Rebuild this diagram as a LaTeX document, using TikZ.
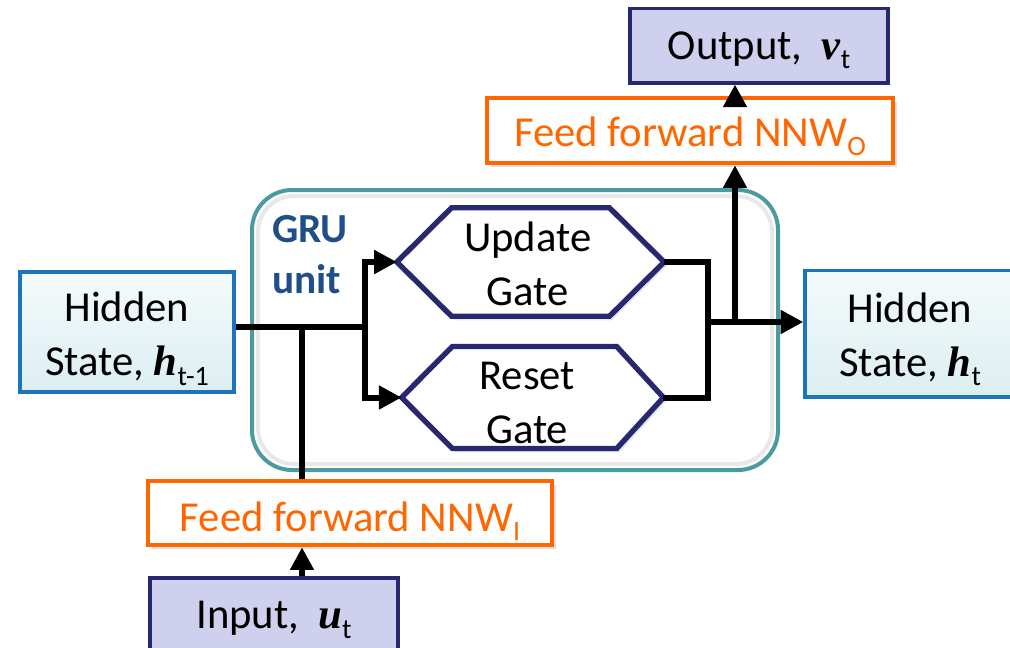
\documentclass[tikz,border=0pt]{standalone}
\usepackage{fontspec}
\setmainfont{Carlito}
\newfontfamily\serifbi{Liberation Serif}
\usetikzlibrary{arrows.meta,shadows,calc}
\definecolor{lav}{RGB}{207,207,238}
\definecolor{navy}{RGB}{40,40,112}
\definecolor{orng}{RGB}{255,102,0}
\definecolor{teal2}{RGB}{74,154,160}
\definecolor{hblue}{RGB}{28,117,188}
\definecolor{hfill}{RGB}{220,238,241}
\definecolor{grublue}{RGB}{31,78,136}
\newcommand{\mysub}[1]{\raisebox{-7pt}[\height][0pt]{\fontsize{21}{21}\selectfont #1}}
\newcommand{\myvec}[1]{{\serifbi\bfseries\itshape #1}}
\newcommand{\mydown}[2]{\raisebox{-#1}[\height][\depth]{\begin{tabular}{@{}c@{}}#2\end{tabular}}}
\begin{document}
\begin{tikzpicture}[x=0.75pt,y=-0.75pt,
  font=\fontsize{32}{40.5}\selectfont,
  lavbox/.style={draw=navy, line width=2.5pt, fill=lav, inner sep=0pt, align=center},
  ffbox/.style={draw=orng, line width=3.4pt, fill=white, text=orng, inner sep=0pt, align=center,
    drop shadow={shadow xshift=3pt, shadow yshift=-3pt, opacity=0.25, fill=gray}},
  hidbox/.style={draw=hblue, line width=2.5pt, top color=white!70!hfill, bottom color=hfill, inner sep=0pt, align=center},
  gatebox/.style={inner sep=0pt, align=center},
  gateline/.style={draw=navy, fill=white, line width=4pt, line join=miter,
    drop shadow={shadow xshift=2pt, shadow yshift=-3pt, opacity=0.2, fill=gray}},
  conn/.style={line width=4.5pt, line join=miter},
  arr/.style={conn, -{Triangle[length=17pt,width=17pt]}},
  grutext/.style={text=grublue, font=\fontsize{31}{40.5}\selectfont\bfseries, inner sep=0pt, anchor=base west}
]
\useasboundingbox (0,0) rectangle (1010,647);

% GRU container
\draw[gray!18, line width=3pt, rounded corners=27pt] (258,196) rectangle (772,464);
\draw[teal2, line width=3pt, rounded corners=30pt] (252,190) rectangle (778,470);
\node[grutext] (gru1) at (272,242) {GRU};
\node[grutext] (gru2) at (272,293) {unit};

% boxes
\node[lavbox, minimum width=193.5pt, minimum height=56pt] (out) at (759,45.5) {\mydown{2.5pt}{Output,\hspace{0.45em}\myvec{v}\mysub{t}}};
\node[ffbox, minimum width=304.5pt, minimum height=48.75pt] (nnwo) at (690,130.5) {\mydown{4pt}{Feed forward NNW\mysub{O}}};
\node[ffbox, minimum width=303pt, minimum height=48pt] (nnwi) at (350,513) {\mydown{5.5pt}{Feed forward NNW\mysub{I}}};
\node[lavbox, minimum width=186pt, minimum height=54pt] (inp) at (274,614) {\mydown{3pt}{Input,\hspace{0.45em}\myvec{u}\mysub{t}}};
\node[hidbox, minimum width=160.5pt, minimum height=90pt] (hl) at (127,332) {\mydown{4.5pt}{Hidden\\State, \myvec{h}\mysub{t-1}}};
\node[hidbox, minimum width=157.5pt, minimum height=95pt] (hr) at (910,333.5) {\mydown{4pt}{Hidden\\State, \myvec{h}\mysub{t}}};

% gates
\node[gatebox, minimum width=200pt, minimum height=81pt] (upd) at (530.5,262) {};
\node[gatebox, minimum width=196pt, minimum height=76pt] (rst) at (532.5,397.5) {};
\path[gateline] (upd.west) -- ([xshift=41pt]upd.north west) -- ([xshift=-41pt]upd.north east) -- (upd.east)
  -- ([xshift=-41pt]upd.south east) -- ([xshift=41pt]upd.south west) -- cycle;
\path[gateline] (rst.west) -- ([xshift=38pt]rst.north west) -- ([xshift=-35pt]rst.north east) -- (rst.east)
  -- ([xshift=-35pt]rst.south east) -- ([xshift=38pt]rst.south west) -- cycle;
\node[gatebox] at ([xshift=-2pt]upd.center) {\mydown{4pt}{Update\\Gate}};
\node[gatebox] at ([xshift=-4pt]rst.center) {\mydown{6.5pt}{Reset\\Gate}};

% junctions
\coordinate (jl) at (365,327);
\coordinate (jin) at (302,327);
\coordinate (jr) at (708,322);
\coordinate (jo) at (735,322);

% connectors
\draw[conn] (hl.east |- jl) -- (jl);
\draw[arr] (jl) |- (upd.west);
\draw[arr] (jl) |- (rst.west);
\draw[conn] (jin |- nnwi.north) -- (jin);
\draw[arr] (inp.north -| jin) -- (nnwi.south -| jin);
\draw[conn] (upd.east) -| (jr);
\draw[conn] (rst.east) -| (jr);
\draw[arr] (jr) -- (jr -| hr.west);
\draw[arr] (jo) -- (jo |- nnwo.south);
\draw[arr] (nnwo.north -| jo) -- (out.south -| jo);
\end{tikzpicture}
\end{document}
